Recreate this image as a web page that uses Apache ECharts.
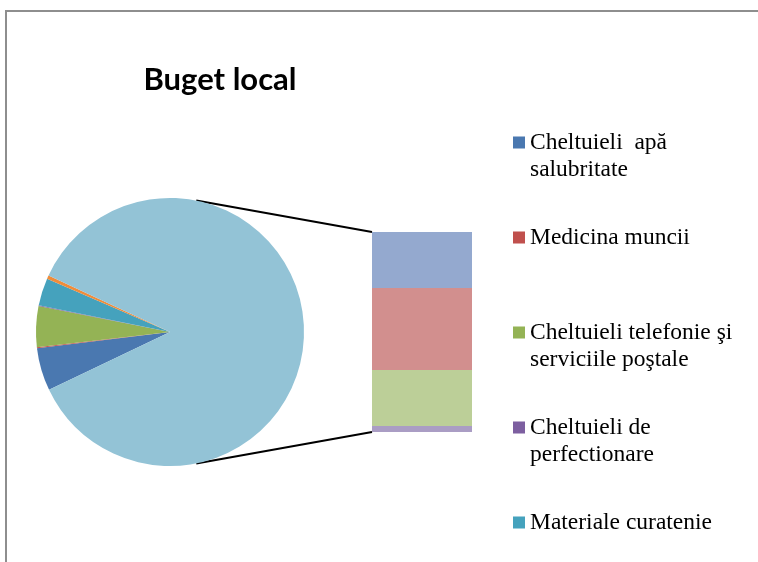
<!DOCTYPE html>
<html>
<head>
<meta charset="utf-8">
<script src="https://cdn.jsdelivr.net/npm/echarts@6/dist/echarts.min.js"></script>
<style>
  html, body { margin: 0; padding: 0; background: #fff; }
  #main { width: 758px; height: 562px; }
</style>
</head>
<body>
<div id="main"></div>
<script>
// felii din pie (procente din total)
var pieNames = ['Cheltuieli  apă salubritate', 'Medicina muncii', 'Cheltuieli telefonie şi serviciile poştale',
    'Cheltuieli de perfectionare', 'Materiale curatenie', 'Alte materiale'];
var pieValues = [5.17, 0.11, 4.92, 0.11, 3.31, 0.42];
var pieColors = ['#4a78b0', '#c0504d', '#94b355', '#7d5fa0', '#45a2bd', '#f08c3a'];

// bara "Altele" (de jos in sus)
var barNames = ['Alte cheltuieli 1', 'Alte cheltuieli 2', 'Alte cheltuieli 3', 'Alte cheltuieli 4'];
var barValues = [2.6, 24.1, 35.3, 24.1];
var barColors = ['#aa9dc4', '#bccf98', '#d28f8e', '#94a9cf'];

var legendLabels = {
    'Cheltuieli  apă salubritate': 'Cheltuieli  apă\nsalubritate',
    'Medicina muncii': 'Medicina muncii\n ',
    'Cheltuieli telefonie şi serviciile poştale': 'Cheltuieli telefonie şi\nserviciile poştale',
    'Cheltuieli de perfectionare': 'Cheltuieli de\nperfectionare',
    'Materiale curatenie': 'Materiale curatenie\n '
};

var otherTotal = barValues.reduce(function (a, b) { return a + b; }, 0);

// layout
var pieCx = 170, pieCy = 332, pieR = 134;
var barLeft = 372, barTop = 232, barW = 100, barH = 200;
var lineAng = 78.7 * Math.PI / 180;
var legTop = 129, legStep = 95;

var pieData = pieNames.map(function (n, i) {
    return {name: n, value: pieValues[i], itemStyle: {color: pieColors[i]}};
});
pieData.push({name: 'Altele', value: otherTotal, itemStyle: {color: '#93c3d6'}});

var barSeries = barNames.map(function (n, i) {
    return {
        name: n,
        type: 'bar',
        stack: 'altele',
        barWidth: '100%',
        data: [barValues[i]],
        itemStyle: {color: barColors[i]},
        silent: true
    };
});

// legenda e taiata jos, asa ca ultimul element merge in a doua legenda (altfel trece pe coloana noua)
function makeLegend(names, top) {
    return {
        data: names,
        orient: 'vertical',
        left: 513,
        top: top,
        padding: 0,
        itemWidth: 12,
        itemHeight: 54,
        itemGap: legStep - 54,
        icon: 'path://M0,0L12,0Z M0,7.5H12V19.5H0Z M0,54L12,54Z',
        itemStyle: {borderWidth: 0},
        selectedMode: false,
        formatter: function (name) { return legendLabels[name]; },
        textStyle: {fontFamily: 'Liberation Serif', fontSize: 23.5, lineHeight: 27, color: '#000'}
    };
}

var myChart = echarts.init(document.getElementById('main'));

var option = {
    animation: false,
    backgroundColor: '#fff',
    title: {
        text: 'Buget local',
        left: 220,
        top: 64,
        padding: 0,
        textAlign: 'center',
        textStyle: {fontFamily: 'Lato', fontWeight: 'bold', fontSize: 31, color: '#000'}
    },
    legend: [
        makeLegend(pieNames.slice(0, 4), legTop),
        makeLegend(pieNames.slice(4, 5), legTop + 4 * legStep)
    ],
    grid: {left: barLeft, top: barTop, width: barW, height: barH},
    xAxis: {type: 'category', data: ['Altele'], show: false},
    yAxis: {type: 'value', min: 0, max: otherTotal, show: false},
    series: [{
        name: 'Buget local',
        type: 'pie',
        center: [pieCx, pieCy],
        radius: pieR,
        startAngle: 205.5,
        clockwise: true,
        label: {show: false},
        labelLine: {show: false},
        itemStyle: {borderWidth: 0},
        silent: true,
        data: pieData
    }].concat(barSeries),
    graphic: [
        {
            type: 'rect',
            shape: {x: 6, y: 11, width: 800, height: 600},
            style: {fill: null, stroke: '#8e8e8e', lineWidth: 2},
            silent: true
        },
        {
            type: 'line',
            shape: {x1: pieCx + pieR * Math.cos(lineAng), y1: pieCy - pieR * Math.sin(lineAng), x2: barLeft, y2: barTop},
            style: {stroke: '#000', lineWidth: 2}
        },
        {
            type: 'line',
            shape: {x1: pieCx + pieR * Math.cos(lineAng), y1: pieCy + pieR * Math.sin(lineAng), x2: barLeft, y2: barTop + barH},
            style: {stroke: '#000', lineWidth: 2}
        }
    ]
};

myChart.setOption(option);
</script>
</body>
</html>
